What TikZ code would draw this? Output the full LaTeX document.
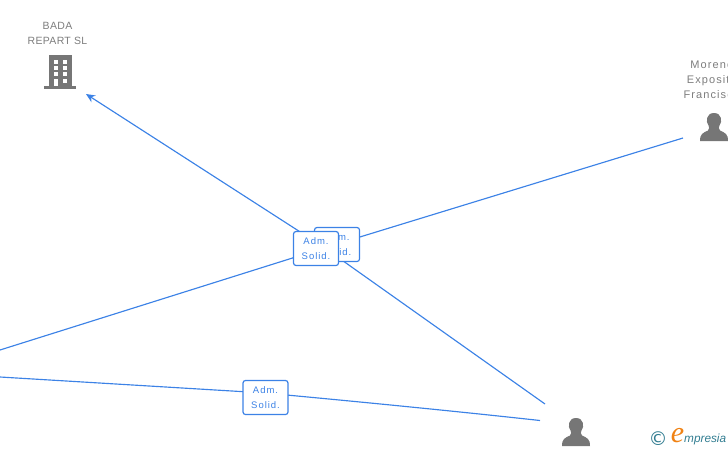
\documentclass[tikz,border=0pt]{standalone}
\usepackage{fontspec}
\usepackage{xcolor}
\usepackage{tikz}
\usetikzlibrary{arrows.meta}
\setmainfont{Liberation Sans}
\newfontfamily\lblfont[LetterSpace=10]{Liberation Sans}
\newfontfamily\namefont[LetterSpace=3]{Liberation Sans}
\newfontfamily\widenamefont[LetterSpace=10]{Liberation Sans}
\newfontfamily\logofont{Liberation Serif}
\newfontfamily\symfont{DejaVu Sans}
\definecolor{linkcolor}{RGB}{60, 130, 230}
\definecolor{iconcolor}{RGB}{118, 118, 118}
\definecolor{namecolor}{RGB}{125, 125, 125}
\definecolor{logoteal}{RGB}{50, 125, 145}
\definecolor{logoorange}{RGB}{240, 130, 20}
\tikzset{
	link/.style={linkcolor, line width=1.15pt},
	rolebox/.style={draw=linkcolor, line width=1.2pt, fill=white, rounded corners=2.5pt, minimum width=45pt, minimum height=34pt, inner sep=0pt, align=center, text=linkcolor, font=\lblfont\fontsize{9.5pt}{14.5pt}\selectfont},
	namelabel/.style={text=namecolor, align=center, inner sep=0pt, font=\namefont\fontsize{10.5pt}{15pt}\selectfont},
	person/.pic={
		\fill[iconcolor] (0,-14) .. controls (-8,-14) and (-8.5,-5) .. (-5.5,-1.5) .. controls (-4.5,0) and (-4.5,2) .. (-6,3.5) .. controls (-11,6) and (-14,6.5) .. (-14,14) -- (14,14) .. controls (14,6.5) and (11,6) .. (6,3.5) .. controls (4.5,2) and (4.5,0) .. (5.5,-1.5) .. controls (8.5,-5) and (8,-14) .. (0,-14) -- cycle;
	}
}
\begin{document}
\begin{tikzpicture}[x=1pt,y=-1pt]
			\useasboundingbox (0,0) rectangle (728,450);
			% connector ends
			\coordinate (badaend) at (86,94);
			\coordinate (morenoend) at (683,138);
			\coordinate (leftup) at (0,350);
			\coordinate (leftdown) at (0,377);
			\coordinate (lowerup) at (545,404);
			\coordinate (lowerdown) at (540,420.5);
			\coordinate (midbend) at (322,246);
			\coordinate (roleone) at (337,244);
			% connectors
			\draw[link, -{Stealth[length=9pt,width=8pt]}] (lowerup) -- (midbend) -- (badaend);
			\draw[link] (morenoend) -- (roleone) -- (leftup);
			\draw[link] (leftdown) -- (265,393) .. controls (330,399) and (440,409.5) .. (lowerdown);
			% role boxes
			\node[rolebox] (adm1) at (337,244.5) {Adm.\\Solid.};
			\node[rolebox] (adm2) at (316,248.5) {Adm.\\Solid.};
			\node[rolebox] (adm3) at (265.5,397.5) {Adm.\\Solid.};
			% names
			\node[namelabel] (bada) at (57.5,33.5) {BADA\\REPART SL};
			\node[namelabel, font=\widenamefont\fontsize{11pt}{15pt}\selectfont] (moreno) at (711.8,80) {Moreno\\Exposito\\Francisco};
			% building
			\fill[iconcolor] (49,55) rectangle (72,87);
			\fill[iconcolor] (44,86) rectangle (76,89);
			\foreach \wy in {59.5,65.5,72} {
				\fill[white] (53.5,\wy) rectangle ++(4.2,4);
				\fill[white] (62.7,\wy) rectangle ++(4.5,4);
			}
			\fill[white] (53.5,78.5) rectangle (57.7,86);
			\fill[white] (62.7,78.5) rectangle (67.2,83);
			% people
			\pic at (714,127) {person};
			\pic at (576,432) {person};
			% logo
			\node[inner sep=0pt, text=logoteal, font=\symfont\fontsize{19pt}{19pt}\selectfont] (copy) at (658,439) {©};
			\node[inner sep=0pt, text=logoorange, font=\logofont\itshape\fontsize{30pt}{30pt}\selectfont] (logoe) at (677.5,436) {e};
			\node[inner sep=0pt, anchor=west, text=logoteal, font=\itshape\fontsize{11.8pt}{14pt}\selectfont] (logotext) at (684,439) {mpresia};
		\end{tikzpicture}
\end{document}
